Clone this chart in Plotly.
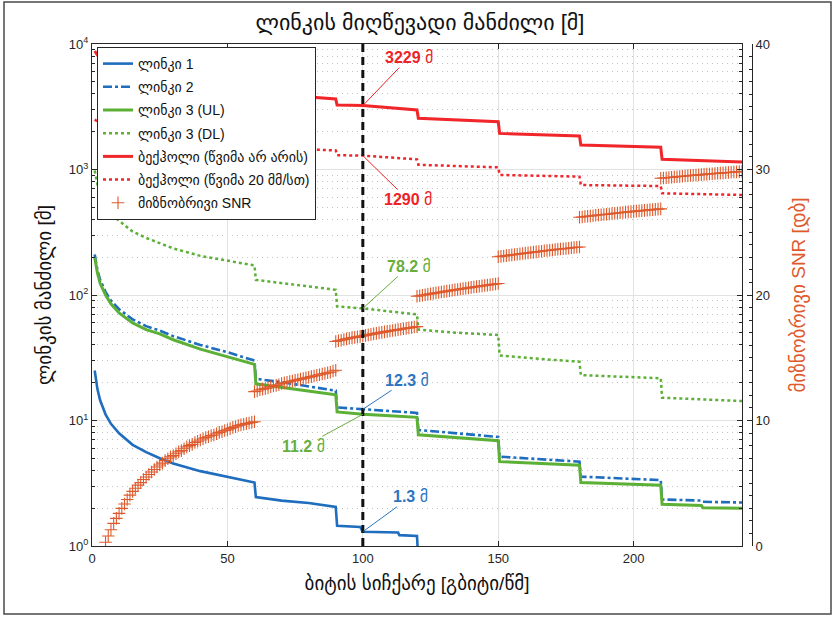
import math
import plotly.graph_objects as go

# ---- link distance data (metres) versus bit rate (Gbit/s) ----
link1_rate = [1, 2, 3, 5, 7, 10, 15, 20, 25, 30, 40, 50, 55, 60, 60.5, 70, 80, 90, 90.5, 99, 100, 113, 113.5, 120, 120.2]
link1_dist = [25, 17.8, 14.5, 11.2, 9.4, 7.9, 6.4, 5.6, 5.0, 4.55, 3.95, 3.55, 3.35, 3.2, 2.45, 2.3, 2.2, 2.05, 1.45, 1.42, 1.3, 1.28, 1.22, 1.2, 1.0]

link23_rate = [1, 2, 3, 5, 7, 10, 15, 20, 25, 30, 40, 50, 60, 60.5, 70, 80, 90, 90.5, 100, 110, 120, 120.5,
               135, 150, 150.5, 165, 180, 180.5, 195, 210, 210.5, 225, 225.5, 240]
link2_dist = [210, 158, 132, 106, 90, 77, 64, 56.5, 52, 47, 40, 35, 30, 21.5, 20.2, 18.8, 17.3, 12.7, 12.3, 11.9, 11.5, 8.4,
              7.9, 7.4, 5.15, 4.9, 4.7, 3.57, 3.45, 3.35, 2.35, 2.3, 2.25, 2.22]
link3_ul_dist = [200, 150, 124, 100, 85, 72, 60, 53, 49, 44, 37, 32, 28, 19.6, 18.4, 17.2, 16.0, 11.7, 11.2, 10.9, 10.6, 7.7,
                 7.3, 6.9, 4.7, 4.55, 4.4, 3.2, 3.12, 3.05, 2.15, 2.1, 2.02, 2.0]

link3_dl_rate = [1, 2, 3, 5, 7, 10, 15, 20, 25, 30, 40, 50, 60, 60.5, 75, 90, 90.5, 100, 110, 120, 120.5, 135, 150, 150.5,
                 165, 180, 180.5, 195, 210, 210.5, 225, 240]
link3_dl_dist = [980, 760, 640, 510, 440, 390, 320, 285, 260, 235, 205, 188, 172, 132, 120, 110, 81, 78.2, 74, 70, 53, 50, 48, 33,
                 31, 29.4, 23, 22.3, 21.7, 15.2, 14.7, 14.3]

backhaul_rate = [1, 3, 5, 10, 20, 30, 45, 60, 60.5, 75, 90, 90.5, 100, 120, 120.5, 150, 150.5, 180, 180.5, 210, 210.5, 240]
backhaul_dry = [8800, 7600, 7000, 6200, 5400, 5000, 4600, 4350, 4000, 3850, 3650, 3260, 3229, 2980, 2560, 2400, 1940, 1850, 1567,
                1504, 1205, 1148]
backhaul_rain = [2500, 2300, 2150, 2000, 1850, 1750, 1650, 1580, 1500, 1460, 1420, 1300, 1290, 1205, 1090, 1040, 905, 877, 752,
                 738, 646, 627]

# ---- target SNR (dB) per bit rate, one block per modulation step ----
snr_rate_1 = list(range(5, 61))
snr_db_1 = [0.3, 0.8, 1.3, 1.8, 2.2, 2.6, 3.0, 3.35, 3.7, 4.05, 4.35, 4.6, 4.85, 5.05, 5.3, 5.5, 5.7, 5.9, 6.1, 6.3,
            6.45, 6.6, 6.8, 6.95, 7.1, 7.2, 7.35, 7.5, 7.6, 7.75, 7.9, 8.0, 8.1, 8.25, 8.35, 8.45, 8.55, 8.65, 8.7, 8.8,
            8.85, 8.95, 9.05, 9.1, 9.2, 9.25, 9.35, 9.45, 9.5, 9.6, 9.65, 9.7, 9.75, 9.8, 9.85, 9.9]
snr_rate_2 = list(range(60, 91))
snr_db_2 = [12.3, 12.35, 12.45, 12.5, 12.55, 12.6, 12.7, 12.75, 12.8, 12.85, 12.95, 13.0, 13.05, 13.1, 13.15, 13.2,
            13.25, 13.3, 13.35, 13.4, 13.45, 13.5, 13.55, 13.6, 13.65, 13.7, 13.75, 13.8, 13.85, 13.95, 14.0]
snr_rate_3 = list(range(90, 121))
snr_db_3 = [16.3, 16.35, 16.4, 16.45, 16.5, 16.55, 16.6, 16.62, 16.66, 16.7, 16.74, 16.78, 16.82, 16.86, 16.9, 16.94,
            16.98, 17.02, 17.06, 17.1, 17.13, 17.17, 17.2, 17.24, 17.27, 17.31, 17.34, 17.38, 17.41, 17.45, 17.48]
snr_rate_4 = list(range(120, 151))
snr_db_4 = [19.9, 19.94, 19.98, 20.02, 20.06, 20.09, 20.13, 20.17, 20.2, 20.24, 20.27, 20.31, 20.34, 20.38, 20.41,
            20.44, 20.48, 20.51, 20.54, 20.57, 20.61, 20.64, 20.67, 20.7, 20.73, 20.76, 20.79, 20.82, 20.85, 20.88, 20.92]
snr_rate_5 = list(range(150, 181))
snr_db_5 = [23.05, 23.08, 23.11, 23.14, 23.17, 23.2, 23.23, 23.25, 23.28, 23.31, 23.34, 23.36, 23.39, 23.42, 23.44,
            23.47, 23.49, 23.52, 23.54, 23.57, 23.59, 23.62, 23.64, 23.66, 23.69, 23.71, 23.73, 23.76, 23.78, 23.8, 23.83]
snr_rate_6 = list(range(180, 211))
snr_db_6 = [26.2, 26.22, 26.25, 26.27, 26.3, 26.32, 26.35, 26.37, 26.39, 26.42, 26.44, 26.46, 26.49, 26.51, 26.53,
            26.55, 26.57, 26.6, 26.62, 26.64, 26.66, 26.68, 26.7, 26.72, 26.74, 26.76, 26.78, 26.8, 26.82, 26.84, 26.86]
snr_rate_7 = list(range(210, 241))
snr_db_7 = [29.3, 29.32, 29.34, 29.36, 29.38, 29.4, 29.42, 29.44, 29.46, 29.48, 29.5, 29.52, 29.54, 29.55, 29.57,
            29.59, 29.61, 29.63, 29.64, 29.66, 29.68, 29.7, 29.71, 29.73, 29.75, 29.76, 29.78, 29.8, 29.81, 29.83, 29.85]

snr_rate = snr_rate_1 + snr_rate_2 + snr_rate_3 + snr_rate_4 + snr_rate_5 + snr_rate_6 + snr_rate_7
snr_db = snr_db_1 + snr_db_2 + snr_db_3 + snr_db_4 + snr_db_5 + snr_db_6 + snr_db_7

# ---- labels ----
title_text = "ლინკის მიღწევადი მანძილი [მ]"
x_label = "ბიტის სიჩქარე [გბიტი/წმ]"
y_label = "ლინკის მანძილი [მ]"
y2_label = "მიზნობრივი SNR [დბ]"
series_names = ["ლინკი 1", "ლინკი 2", "ლინკი 3 (UL)", "ლინკი 3 (DL)",
                "ბექჰოლი (წვიმა არ არის)", "ბექჰოლი (წვიმა 20 მმ/სთ)", "მიზნობრივი SNR"]
x_ticks = [0, 50, 100, 150, 200]
y_ticks = [1, 10, 100, 1000, 10000]
y_tick_text = ["10<sup>0</sup>", "10<sup>1</sup>", "10<sup>2</sup>", "10<sup>3</sup>", "10<sup>4</sup>"]
y2_ticks = [0, 10, 20, 30, 40]
marker_rate = 100
callouts = [  # (value, colour, text offset x, text offset y)
    (3229, "#EE2328", 46, -48),
    (1290, "#EE2328", 45, 44),
    (78.2, "#69AE3C", 46, -42),
    (12.3, "#2C74C2", 44, -29),
    (11.2, "#69AE3C", -59, 32),
    (1.3, "#2C74C2", 48, -35),
]

BLUE = "#1F6DBE"
GREEN = "#5BB035"
RED = "#F0262B"
ORANGE = "#DE5A2C"
DARK = "#262626"
FONT = "Liberation Sans, DejaVu Sans, sans-serif"

fig = go.Figure()
fig.add_trace(go.Scatter(x=link1_rate, y=link1_dist, mode="lines", name=series_names[0], legendgroup="g1",
                         line=dict(color=BLUE, width=2.6)))
fig.add_trace(go.Scatter(x=link23_rate, y=link2_dist, mode="lines", name=series_names[1], legendgroup="g2",
                         line=dict(color=BLUE, width=2.6, dash="dashdot")))
fig.add_trace(go.Scatter(x=link23_rate, y=link3_ul_dist, mode="lines", name=series_names[2], legendgroup="g3",
                         line=dict(color=GREEN, width=3)))
fig.add_trace(go.Scatter(x=link3_dl_rate, y=link3_dl_dist, mode="lines", name=series_names[3], legendgroup="g4",
                         line=dict(color=GREEN, width=2.5, dash="dot")))
fig.add_trace(go.Scatter(x=backhaul_rate, y=backhaul_dry, mode="lines", name=series_names[4], legendgroup="g5",
                         line=dict(color=RED, width=3)))
fig.add_trace(go.Scatter(x=backhaul_rate, y=backhaul_rain, mode="lines", name=series_names[5], legendgroup="g6",
                         line=dict(color=RED, width=2.5, dash="dot")))
fig.add_trace(go.Scatter(x=snr_rate, y=snr_db, mode="markers", name=series_names[6], yaxis="y2", legendgroup="g7",
                         marker=dict(symbol="cross-thin", size=9, line=dict(color=ORANGE, width=1.1))))

# frame geometry in pixels
W, H = 838, 617
L, R, T, B = 92, 86, 44, 71
pw, ph = W - L - R, H - T - B
x_end = (742 - L) / pw


def px_x(v):
    return (v - L) / pw


def px_y(v):
    return (H - B - v) / ph


for value, colour, ax, ay in callouts:
    num = f"{value:g}"
    fig.add_annotation(x=marker_rate, y=math.log10(value), xref="x", yref="y",
                       text=f"<b>{num}</b> მ", showarrow=True, arrowhead=0, arrowwidth=1,
                       arrowcolor=colour, ax=ax, ay=ay, font=dict(size=16, color=colour, family=FONT))

fig.add_shape(type="line", xref="x", yref="paper", x0=marker_rate, x1=marker_rate, y0=0, y1=1,
              line=dict(color="#111111", width=3, dash="8px,5px"))
fig.add_shape(type="rect", xref="paper", yref="paper", x0=px_x(4), x1=px_x(831), y0=px_y(614), y1=px_y(2),
              line=dict(color="#4a4a4a", width=1.5))

minor_log = [m * 10 ** e for e in range(4) for m in range(2, 10)]

fig.update_layout(
    width=W, height=H,
    margin=dict(l=L, r=R, t=T, b=B),
    paper_bgcolor="white", plot_bgcolor="white",
    font=dict(family=FONT, color=DARK, size=13),
    title=dict(text=title_text, x=420 / W, xref="container", y=1 - 22 / H, yref="container",
               xanchor="center", yanchor="middle", font=dict(size=22, color="#111111")),
    showlegend=True,
    legend=dict(x=px_x(97), y=px_y(47), xanchor="left", yanchor="top", bgcolor="white",
                bordercolor=DARK, borderwidth=1, font=dict(size=14, color="#111111"),
                traceorder="grouped", tracegroupgap=2),
    xaxis=dict(domain=[0, x_end], range=[0, 240], tickvals=x_ticks, ticks="inside", ticklen=5,
               tickcolor=DARK, showline=True, linecolor=DARK, linewidth=1, mirror="ticks",
               showgrid=True, gridcolor="#e2e2e2", zeroline=False,
               tickfont=dict(size=13, color=DARK),
               title=dict(text=x_label, font=dict(size=19, color="#111111"), standoff=12)),
    yaxis=dict(type="log", range=[0, 4], tickvals=y_ticks, ticktext=y_tick_text, ticks="inside",
               ticklen=5, tickcolor=DARK, showline=True, linecolor=DARK, linewidth=1, mirror="ticks",
               showgrid=True, gridcolor="#e2e2e2", zeroline=False,
               minor=dict(tickvals=minor_log, ticks="inside", ticklen=3, tickcolor=DARK,
                          showgrid=True, gridcolor="#c2c2c2", griddash="1px,4px", gridwidth=1),
               tickfont=dict(size=13, color=DARK),
               title=dict(text=y_label, font=dict(size=19, color="#111111"), standoff=12)),
    yaxis2=dict(overlaying="y", anchor="free", position=1, side="right", range=[0, 40],
                tickvals=y2_ticks, ticks="inside", ticklen=5, tickcolor=DARK, showline=True,
                linecolor=DARK, linewidth=1, showgrid=False, zeroline=False,
                minor=dict(dtick=1, ticks="inside", ticklen=3, tickcolor=DARK, showgrid=False),
                tickfont=dict(size=13, color=DARK),
                title=dict(text=y2_label, font=dict(size=19, color=ORANGE), standoff=22)),
)

fig.write_html("out.html")
